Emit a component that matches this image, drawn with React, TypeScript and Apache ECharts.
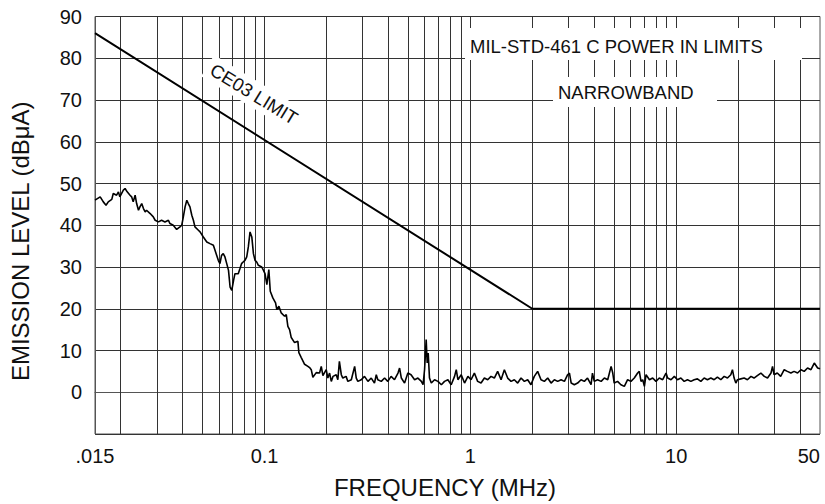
import React, { useEffect, useRef } from "react";
import * as echarts from "echarts";

// Measured emission trace (frequency in MHz, level in dBµA)
const emissionFreqMHz = [
  0.015, 0.0159, 0.01646, 0.01697, 0.0174, 0.0181, 0.0184, 0.0191, 0.0195, 0.0198,
  0.0206, 0.021, 0.0215, 0.0222, 0.0226, 0.023, 0.0235, 0.0239, 0.0244, 0.0248,
  0.0253, 0.0258, 0.0263, 0.0267, 0.0278, 0.0288, 0.0294, 0.0305, 0.0316, 0.0328,
  0.0341, 0.0347, 0.036, 0.0374, 0.0388, 0.0396, 0.0403, 0.0411, 0.0419, 0.0426,
  0.0434, 0.0443, 0.0451, 0.0459, 0.0477, 0.0486, 0.0504, 0.0524, 0.0543, 0.0564,
  0.0585, 0.0596, 0.0607, 0.0618, 0.063, 0.0642, 0.0655, 0.0668, 0.068, 0.0693,
  0.0707, 0.0718, 0.0745, 0.0759, 0.0773, 0.0787, 0.0803, 0.0819, 0.0834, 0.085,
  0.0867, 0.0883, 0.0899, 0.0916, 0.0933, 0.0969, 0.0988,
  0.1005, 0.1026, 0.1049, 0.1066, 0.1097, 0.1131, 0.1147, 0.1174, 0.1205, 0.1251,
  0.1275, 0.1298, 0.1323, 0.1348, 0.1399, 0.1452, 0.1468, 0.1508, 0.1565, 0.1624,
  0.1655, 0.1686, 0.1717, 0.1783, 0.1851, 0.1886, 0.1921,
  0.1994, 0.203, 0.207, 0.211, 0.215, 0.223, 0.227, 0.231, 0.236, 0.24,
  0.249, 0.254, 0.264, 0.274, 0.279, 0.284, 0.295, 0.306, 0.318, 0.33,
  0.342, 0.349, 0.355, 0.369, 0.383, 0.397, 0.412, 0.428, 0.445, 0.453,
  0.462, 0.479, 0.497, 0.515, 0.536, 0.556, 0.578, 0.589, 0.599, 0.61,
  0.617, 0.624, 0.633, 0.646, 0.67, 0.696, 0.723, 0.749, 0.778, 0.807,
  0.838, 0.854, 0.87, 0.903, 0.937, 0.973,
  1.008, 1.046, 1.085, 1.127, 1.17, 1.214, 1.26, 1.308, 1.357, 1.41,
  1.463, 1.518, 1.577, 1.636, 1.698, 1.763, 1.83, 1.899, 1.97, 2.045,
  2.123, 2.205, 2.289, 2.376, 2.467, 2.56, 2.657,
  2.76, 2.865, 2.97, 3.03, 3.09, 3.2, 3.32, 3.45, 3.58, 3.71,
  3.86, 3.92, 4.0, 4.15, 4.32, 4.48, 4.65, 4.83, 4.92, 5.0,
  5.19, 5.39, 5.6, 5.81, 6.03, 6.26, 6.5, 6.62, 6.75, 6.88,
  7.01, 7.14, 7.42, 7.69, 7.98, 8.28, 8.6, 8.93, 9.09, 9.44, 9.8,
  10.15, 10.54, 10.94, 11.35, 11.79, 12.23, 12.69, 13.18, 13.68, 14.19,
  14.74, 15.3, 15.87, 16.48, 17.11, 17.75, 18.43, 18.77, 19.13, 19.5,
  19.86, 20.62, 21.4, 22.2, 23.1, 23.9, 24.8, 25.8, 26.8, 27.8,
  28.9, 29.4, 29.9, 31.0, 32.2, 33.5, 34.7, 36.1, 37.4, 38.9,
  40.4, 41.9, 43.5, 45.2, 46.9, 48.7, 50,
];
const emissionDbuA = [
  46.0, 46.8, 45.6, 44.8, 45.6, 46.2, 47.6, 47.2, 48.0, 46.8,
  48.4, 48.8, 48.0, 47.2, 46.8, 45.6, 47.2, 45.2, 43.6, 44.4,
  45.2, 44.0, 43.2, 43.6, 42.8, 42.0, 41.2, 40.8, 41.2, 40.8,
  41.2, 40.4, 40.0, 39.0, 39.6, 40.0, 42.0, 44.4, 46.0, 45.2,
  44.4, 42.4, 41.2, 39.6, 38.8, 38.4, 37.2, 36.0, 35.6, 35.2,
  32.8, 31.6, 30.8, 32.8, 33.2, 32.4, 30.8, 29.2, 25.2, 24.4,
  26.8, 28.4, 28.4, 29.6, 30.8, 31.2, 31.6, 32.4, 34.8, 38.4,
  37.2, 33.2, 31.6, 31.2, 30.4, 30.0, 29.2,
  28.4, 25.8, 29.4, 24.2, 22.6, 21.4, 19.8, 20.6, 19.0, 18.2,
  18.6, 15.8, 15.0, 13.1, 11.9, 12.2, 9.5, 8.3, 6.7, 6.2,
  5.9, 5.4, 3.6, 4.7, 4.6, 6.2, 4.0,
  5.4, 3.4, 4.6, 2.6, 3.8, 4.2, 3.0, 7.4, 4.2, 3.4,
  3.8, 2.6, 3.0, 6.2, 3.4, 2.6, 3.0, 3.8, 2.6, 3.4,
  2.2, 4.2, 3.0, 2.6, 3.4, 2.6, 3.8, 3.0, 4.6, 5.8,
  3.4, 2.2, 4.6, 4.2, 3.0, 3.4, 2.6, 1.8, 5.4, 12.6,
  7.0, 9.4, 3.4, 2.2, 3.0, 2.6, 1.8, 2.6, 3.0, 1.8,
  3.8, 5.4, 3.0, 4.2, 2.2, 3.8,
  3.0, 4.6, 2.6, 2.2, 3.4, 3.0, 3.8, 3.4, 5.0, 3.0,
  5.4, 3.4, 2.6, 3.0, 2.2, 3.4, 2.6, 3.0, 1.8, 3.8,
  5.0, 3.0, 2.6, 3.4, 2.2, 3.0, 2.6,
  3.0, 2.6, 4.2, 4.6, 2.2, 1.8, 2.2, 3.0, 2.6, 3.4,
  1.8, 4.6, 2.6, 3.0, 2.6, 3.4, 3.0, 6.2, 4.6, 2.2,
  2.6, 1.8, 1.4, 3.0, 2.6, 3.4, 4.6, 5.0, 2.6, 3.0,
  1.4, 4.2, 3.0, 3.4, 2.6, 3.4, 3.0, 4.6, 3.4, 3.0, 3.8,
  3.0, 3.4, 2.6, 3.0, 2.6, 3.0, 3.2, 2.6, 3.4, 3.0,
  3.4, 3.0, 3.6, 3.0, 3.8, 3.4, 4.2, 5.4, 3.4, 2.2,
  3.0, 3.2, 3.4, 3.0, 3.8, 3.4, 4.0, 4.6, 3.8, 3.4,
  4.6, 6.2, 4.2, 4.6, 3.8, 5.4, 5.0, 4.6, 5.0, 4.6,
  5.4, 5.0, 5.8, 5.4, 7.0, 5.8, 5.6,
];

// CE03 limit (MHz, dBµA)
const limitFreqMHz = [0.015, 2, 50];
const limitDbuA = [86, 20, 20];

// Vertical grid lines (MHz)
const gridFreqMHz = [
  0.02, 0.03, 0.04, 0.05, 0.06, 0.07, 0.08, 0.09,
  0.1, 0.2, 0.3, 0.4, 0.5, 0.6, 0.7, 0.8, 0.9,
  1, 2, 3, 4, 5, 6, 7, 8, 9,
  10, 20, 30, 40,
];

// Axis settings
const xMin = 0.015;
const xMax = 50;
const yMin = -10;
const yMax = 90;
const yStep = 10;

const FONT = "'Liberation Sans', Arial, Helvetica, sans-serif";

function formatFreq(v: number): string {
  if (Math.abs(v - 0.015) < 1e-6) return ".015";
  if (v >= 49) return "50";
  return String(+v.toPrecision(6));
}

export default function App() {
  const ref = useRef<HTMLDivElement>(null);

  useEffect(() => {
    if (!ref.current) return;
    const chart = echarts.init(ref.current, null, { renderer: "svg" });
    const trace = emissionFreqMHz.map((f, i) => [f, emissionDbuA[i]]);
    const limit = limitFreqMHz.map((f, i) => [f, limitDbuA[i]]);

    chart.setOption({
      animation: false,
      backgroundColor: "#fff",
      textStyle: { fontFamily: FONT },
      grid: {
        left: 95,
        right: 5,
        top: 16.5,
        bottom: 69,
        show: true,
        borderColor: "#555",
        borderWidth: 1,
      },
      xAxis: {
        type: "log",
        logBase: 10,
        min: xMin,
        max: xMax,
        name: "FREQUENCY (MHz)",
        nameLocation: "middle",
        nameGap: 41,
        nameTextStyle: { fontSize: 24, color: "#111", padding: [0, 25, 0, 0] },
        axisLine: { show: true, lineStyle: { color: "#555" } },
        axisTick: { show: false },
        splitLine: { show: false },
        axisLabel: {
          fontSize: 20,
          color: "#111",
          margin: 12,
          showMinLabel: true,
          showMaxLabel: true,
          alignMaxLabel: "right",
          formatter: (v: number) => formatFreq(v),
        },
      },
      yAxis: {
        type: "value",
        min: yMin,
        max: yMax,
        interval: yStep,
        name: "EMISSION LEVEL (dBμA)",
        nameLocation: "middle",
        nameGap: 63,
        nameRotate: 90,
        nameTextStyle: { fontSize: 24, color: "#111", padding: [0, 32, 0, 0] },
        axisLine: { show: true, lineStyle: { color: "#555" } },
        axisTick: { show: false },
        splitLine: { show: true, lineStyle: { color: "#333", width: 1 } },
        axisLabel: {
          fontSize: 20,
          color: "#111",
          margin: 13,
          formatter: (v: number) => (v === yMin ? "" : String(v)),
        },
      },
      series: [
        {
          name: "Emission",
          type: "line",
          data: trace,
          showSymbol: false,
          symbol: "none",
          z: 3,
          lineStyle: { color: "#000", width: 1.6 },
          emphasis: { disabled: true },
          markLine: {
            silent: true,
            z: 1,
            symbol: ["none", "none"],
            label: { show: false },
            emphasis: { disabled: true },
            lineStyle: { color: "#333", width: 1, type: "solid" },
            data: gridFreqMHz.map((f) => ({ xAxis: f })),
          },
        },
        {
          name: "CE03 LIMIT",
          type: "line",
          data: limit,
          showSymbol: false,
          symbol: "none",
          z: 4,
          lineStyle: { color: "#000", width: 2 },
          emphasis: { disabled: true },
        },
      ],
      graphic: [
        {
          type: "rect",
          z: 100,
          shape: { x: 465, y: 28, width: 337, height: 32 },
          style: { fill: "#fff" },
        },
        {
          type: "text",
          z: 101,
          x: 470,
          y: 46,
          style: {
            text: "MIL-STD-461 C POWER IN LIMITS",
            fontSize: 18.5,
            fontFamily: FONT,
            fill: "#111",
            align: "left",
            verticalAlign: "middle",
          },
        },
        {
          type: "rect",
          z: 100,
          shape: { x: 553, y: 77, width: 164, height: 30 },
          style: { fill: "#fff" },
        },
        {
          type: "text",
          z: 101,
          x: 558,
          y: 92.5,
          style: {
            text: "NARROWBAND",
            fontSize: 18.5,
            fontFamily: FONT,
            fill: "#111",
            align: "left",
            verticalAlign: "middle",
          },
        },
        {
          type: "text",
          z: 101,
          x: 254,
          y: 94,
          rotation: -0.55,
          style: {
            text: "CE03 LIMIT",
            fontSize: 18.5,
            fontFamily: FONT,
            fill: "#111",
            align: "center",
            verticalAlign: "middle",
            backgroundColor: "#fff",
            padding: [3, 5],
          },
        },
      ],
    });

    return () => chart.dispose();
  }, []);

  return (
    <div
      ref={ref}
      style={{ position: "fixed", left: 0, top: 0, width: 825, height: 504 }}
    />
  );
}
